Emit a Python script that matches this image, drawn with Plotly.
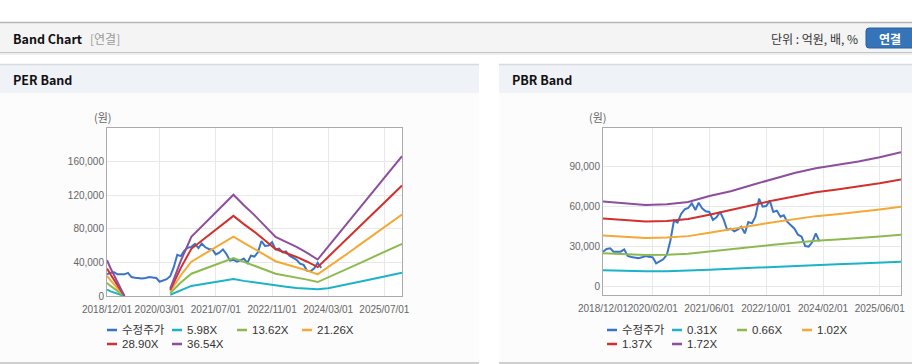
import plotly.graph_objects as go
import pandas as pd

W, H = 912, 364

# ---------------- data ----------------
price = [25750, 27750, 28250, 25750, 25750, 25750, 27500, 22500, 21750, 21500,
         20750, 21500, 22500, 22000, 21500, 17000, 18500, 20000, 23500, 34000,
         49000, 47500, 54000, 57500, 58500, 62000, 57000, 62500, 58000, 56000,
         55500, 49500, 51500, 55500, 50000, 42000, 43000, 41000, 42500, 44500,
         39500, 48000, 47000, 52000, 65500, 59500, 60000, 64000, 55500, 56500,
         52000, 53000, 48000, 45500, 43000, 38500, 37000, 30000, 29500, 33000,
         39500, 33500]
price_dates = pd.date_range("2018-12-01", periods=len(price), freq="MS")

per_dates = ["2018-12-01", "2019-01-01", "2019-05-01", "2019-12-01",
             "2020-06-01", "2020-09-01", "2020-12-01", "2021-03-01", "2021-06-01",
             "2021-09-01", "2021-12-01", "2022-03-01", "2022-06-01", "2022-09-01",
             "2022-12-01", "2023-03-01", "2023-06-01", "2023-09-01", "2023-12-01",
             "2024-03-01", "2024-06-01", "2024-09-01", "2024-12-01", "2025-03-01",
             "2025-06-01", "2025-09-01", "2025-12-01"]
per_598 = [7500, 5500, 0, None, 1500, 7000, 12000, 14000, 16000, 18000, 20200,
           18000, 16200, 14000, 12000, 11000, 9500, 8500, 8000,
           9300, 12100, 14700, 17200, 19700, 22200, 24900, 27600]
per_1362 = [15500, 12000, 0, None, 3400, 16000, 26500, 31000, 35500, 40000, 45300,
            40600, 36200, 31300, 26500, 24300, 22000, 19500, 16600,
            22000, 27600, 33400, 39100, 44900, 50600, 56300, 62100]
per_2126 = [24000, 18500, 0, None, 5300, 24700, 40800, 48000, 55000, 62500, 70600,
            63200, 56400, 48800, 41400, 37900, 34400, 30300, 25800,
            34200, 43200, 52100, 61100, 70000, 79000, 87900, 96900]
per_2890 = [32600, 25500, 0, None, 7100, 33500, 56200, 65800, 75500, 85200, 95400,
            85600, 76400, 66000, 55900, 51200, 46500, 40800, 34400,
            46500, 58700, 70800, 83000, 95200, 107400, 119500, 131500]
per_3654 = [42600, 33000, 0, None, 8800, 42000, 70500, 83000, 95500, 108000, 120500,
            108000, 96300, 83200, 70400, 64500, 58500, 51300, 43400,
            58800, 74200, 89600, 104900, 120400, 135700, 151100, 166500]

pbr_dates = ["2018-12-01", "2019-06-01", "2019-12-01", "2020-06-01", "2020-12-01",
             "2021-06-01", "2021-12-01", "2022-06-01", "2022-12-01", "2023-06-01",
             "2023-12-01", "2024-06-01", "2024-12-01", "2025-06-01", "2025-12-01"]
pbr_031 = [11800, 11200, 11000, 11000, 11400, 12100, 12900, 13700, 14500, 15300,
           15900, 16400, 16800, 17400, 18100]
pbr_066 = [24500, 23800, 23300, 23500, 24200, 25900, 27300, 29200, 30900, 32500,
           33900, 34800, 35800, 37100, 38500]
pbr_102 = [37800, 36800, 36000, 36300, 37400, 40000, 42400, 45200, 47800, 50300,
           52400, 53900, 55400, 57400, 59500]
pbr_137 = [50700, 49400, 48300, 48800, 50200, 53500, 56800, 60500, 64200, 67500,
           70300, 72300, 74400, 77000, 79900]
pbr_172 = [63300, 62000, 60800, 61300, 63000, 67500, 71000, 75800, 80500, 84800,
           88300, 90800, 93300, 96600, 100300]

per_names = ["수정주가", "5.98X", "13.62X", "21.26X", "28.90X", "36.54X"]
pbr_names = ["수정주가", "0.31X", "0.66X", "1.02X", "1.37X", "1.72X"]
colors = ["#3a74c6", "#1bb3c8", "#8cba4f", "#f5a833", "#d2302c", "#8d4e9e"]

per_ticks = ["2018-12-01", "2020-03-01", "2021-07-01", "2022-11-01", "2024-03-01", "2025-07-01"]
pbr_ticks = ["2018-12-01", "2020-02-01", "2021-06-01", "2022-10-01", "2024-02-01", "2025-06-01"]
per_yticks = [0, 40000, 80000, 120000, 160000]
pbr_yticks = [0, 30000, 60000, 90000]

# ---------------- helpers ----------------
def px(x):
    return x / W

def py(y):
    return 1 - y / H

FONT = "Liberation Sans, Noto Sans CJK KR, sans-serif"
TFONT = "Liberation Sans Narrow, Liberation Sans, sans-serif"
KFONT = "Noto Sans CJK KR, Liberation Sans, sans-serif"

fig = go.Figure()

per_series = [price, per_598, per_1362, per_2126, per_2890, per_3654]
pbr_series = [price, pbr_031, pbr_066, pbr_102, pbr_137, pbr_172]

for i, (name, vals) in enumerate(zip(per_names, per_series)):
    xs = price_dates if i == 0 else per_dates
    fig.add_trace(go.Scatter(x=xs, y=vals, name=name, mode="lines",
                             line=dict(color=colors[i], width=2),
                             connectgaps=False, xaxis="x", yaxis="y",
                             showlegend=False, hoverinfo="skip"))
for i, (name, vals) in enumerate(zip(pbr_names, pbr_series)):
    xs = price_dates if i == 0 else pbr_dates
    fig.add_trace(go.Scatter(x=xs, y=vals, name=name, mode="lines",
                             line=dict(color=colors[i], width=2),
                             xaxis="x2", yaxis="y2", showlegend=False, hoverinfo="skip"))

shapes = []
def rect(x0, y0, x1, y1, fill, line=None, lw=0):
    shapes.append(dict(type="rect", xref="paper", yref="paper",
                       x0=px(x0), x1=px(x1), y0=py(y1), y1=py(y0),
                       fillcolor=fill, line=dict(width=lw, color=line or fill),
                       layer="below"))

def hline(x0, x1, y, color, w=1):
    shapes.append(dict(type="line", xref="paper", yref="paper",
                       x0=px(x0), x1=px(x1), y0=py(y), y1=py(y),
                       line=dict(color=color, width=w), layer="below"))

# header
rect(0, 23, 912, 52, "#f4f4f4")
hline(0, 912, 22.5, "#b4b4b4", 1.5)
hline(0, 912, 52.5, "#c4c4c4", 1)
hline(0, 912, 54, "#e8e8e8", 1.5)
# panels
for (a, b) in [(0, 479), (499, 912)]:
    rect(a, 93, b, 362, "#fcfcfc")
    rect(a, 64.5, b, 93, "#eff2f7")
    hline(a, b, 64.5, "#d6d9de", 1.5)
    hline(a, b, 363, "#cfcfcf", 2)
# plot area backgrounds
rect(107, 128, 402, 296, "#ffffff")
rect(603, 128, 901, 295, "#ffffff")
# button
bx0, bx1, by0, by1, r = 866, 914, 28, 48, 3
shapes.append(dict(type="path", xref="paper", yref="paper",
                   path=(f"M {px(bx0 + r)},{py(by0)} L {px(bx1)},{py(by0)} L {px(bx1)},{py(by1)} "
                         f"L {px(bx0 + r)},{py(by1)} Q {px(bx0)},{py(by1)} {px(bx0)},{py(by1 - r)} "
                         f"L {px(bx0)},{py(by0 + r)} Q {px(bx0)},{py(by0)} {px(bx0 + r)},{py(by0)} Z"),
                   fillcolor="#3574b8", line=dict(color="#2a62a0", width=1)))

annotations = []
def text(x, y, s, size=12, color="#333333", bold=False, anchor="left", family=KFONT):
    annotations.append(dict(xref="paper", yref="paper", x=px(x), y=py(y),
                            text=f"<b>{s}</b>" if bold else s, showarrow=False,
                            xanchor=anchor, yanchor="middle",
                            font=dict(size=size, color=color, family=family)))

text(11, 39, "Band Chart", 12.5, "#111111", True)
text(88, 39, "[연결]", 12, "#9a9a9a")
text(860, 39, "단위 : 억원, 배, %", 12, "#333333", anchor="right")
text(890, 38.5, "연결", 12, "#ffffff", True, anchor="center")
text(11, 79.5, "PER Band", 12.5, "#111111", True)
text(510, 79.5, "PBR Band", 12.5, "#111111", True)
text(103, 117, "(원)", 11, "#666666", anchor="center")
text(598, 117, "(원)", 11, "#666666", anchor="center")

# legends (custom, short line symbols)
def legend(x0, names):
    for i, n in enumerate(names):
        row, col = divmod(i, 4)
        lx = x0 + 65 * col
        ly = 330 + 14 * row
        hline(lx, lx + 10, ly, colors[i], 2.5)
        text(lx + 13, ly, n, 11.5, "#333333", family=FONT)

legend(107, per_names)
legend(607, pbr_names)

axis_common = dict(showline=True, mirror=True, linecolor="#ababab", linewidth=1,
                   showgrid=True, gridcolor="#e8e8e8", gridwidth=1, zeroline=False,
                   ticks="", tickangle=0, automargin=False,
                   tickfont=dict(size=10, color="#666666", family=TFONT))

fig.update_layout(
    width=W, height=H, margin=dict(l=0, r=0, t=0, b=0, pad=0, autoexpand=False),
    paper_bgcolor="#ffffff", plot_bgcolor="rgba(0,0,0,0)",
    showlegend=False, shapes=shapes, annotations=annotations,
    xaxis=dict(domain=[px(107), px(402)], anchor="y", type="date",
               range=["2018-12-01", "2025-12-01"], tickvals=per_ticks, ticklabelstandoff=4,
               ticktext=[t.replace("-", "/") for t in per_ticks], **axis_common),
    yaxis=dict(domain=[py(296), py(128)], anchor="x", range=[0, 200000],
               tickvals=per_yticks, ticktext=[f"{v:,}" for v in per_yticks], **axis_common),
    xaxis2=dict(domain=[px(603), px(901)], anchor="y2", type="date",
                range=["2018-12-01", "2025-12-01"], tickvals=pbr_ticks, ticklabelstandoff=4,
                ticktext=[t.replace("-", "/") for t in pbr_ticks], **axis_common),
    yaxis2=dict(domain=[py(295), py(128)], anchor="x2", range=[-6750, 118500],
                tickvals=pbr_yticks, ticktext=[f"{v:,}" for v in pbr_yticks], **axis_common),
)

fig.write_html("out.html", config={"displayModeBar": False},
               post_script="document.body.style.margin='0';document.body.style.overflow='hidden';")
